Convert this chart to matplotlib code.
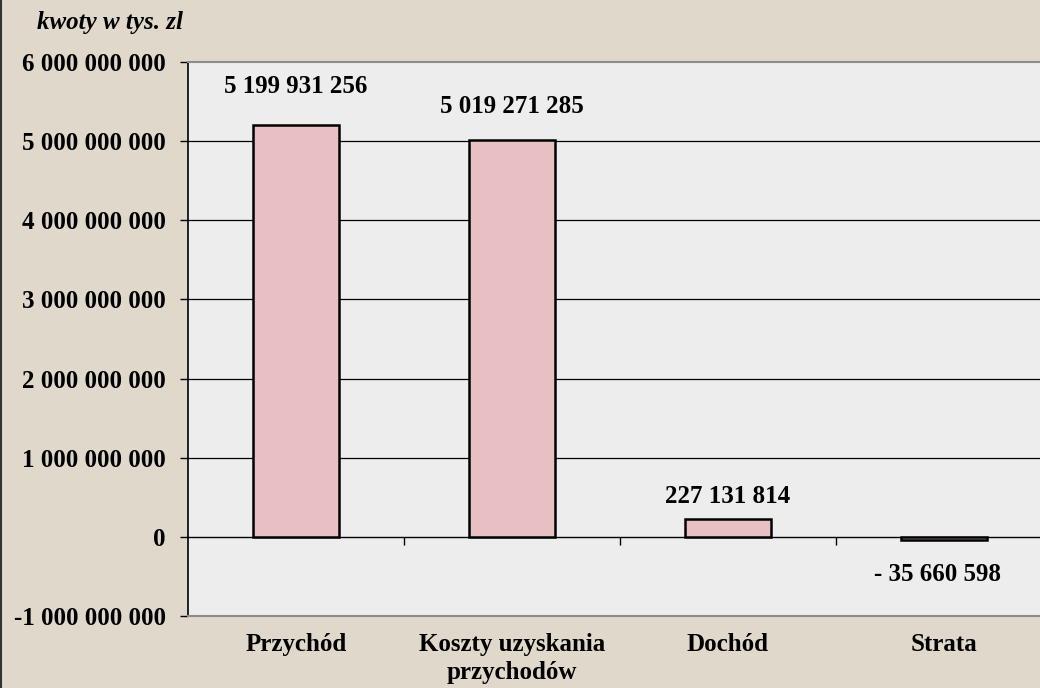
import numpy as np
import matplotlib.pyplot as plt
from matplotlib.ticker import FuncFormatter

# Data (kwoty w tys. zl)
categories = ['Przychód', 'Koszty uzyskania\nprzychodów', 'Dochód', 'Strata']
values = [5199931256, 5019271285, 227131814, -35660598]
value_labels = ['5 199 931 256', '5 019 271 285', '227 131 814', '- 35 660 598']
label_offsets = [(0, 28), (0, 24), (0, 16), (-5, -25)]  # points from bar end

plt.rcParams['font.family'] = ['Liberation Serif', 'DejaVu Serif']
plt.rcParams['font.weight'] = 'bold'

fig = plt.figure(figsize=(10.4, 6.88), dpi=100, facecolor='#e0d8cb')
ax = fig.add_axes([0.1808, 0.1047, 0.8307, 0.8052])
ax.set_facecolor('#ededed')

x = np.arange(len(categories))
bars = ax.bar(x, values, width=0.4, color='#e8bfc3', edgecolor='black', linewidth=1.8, zorder=3)

ax.set_xlim(-0.5, len(categories) - 0.5)
ax.set_ylim(-1e9, 6e9)
ax.set_yticks(np.arange(-1e9, 6.1e9, 1e9))
ax.yaxis.set_major_formatter(FuncFormatter(lambda v, p: f'{int(v):,}'.replace(',', ' ')))
ax.tick_params(axis='y', length=6, width=1, pad=10, labelsize=18, colors='black')
for lab in ax.get_yticklabels():
    lab.set_fontweight('bold')

# gridlines
for yv in np.arange(1e9, 5.1e9, 1e9):
    ax.axhline(yv, color='black', linewidth=0.9, zorder=1)

# category labels at the bottom
ax.set_xticks(x)
ax.set_xticklabels(categories, fontsize=18, fontweight='bold', linespacing=1.3)
ax.tick_params(axis='x', length=0, pad=12)

# zero axis with ticks between categories
sec = ax.secondary_xaxis(1 / 7)
sec.set_xticks(x[:-1] + 0.5)
sec.set_xticklabels([])
sec.tick_params(axis='x', direction='out', length=6, width=1, color='black')
sec.spines['bottom'].set_color('black')
sec.spines['bottom'].set_linewidth(1)

for s in ['top', 'bottom', 'right']:
    ax.spines[s].set_color('#8c8c8c')
    ax.spines[s].set_linewidth(1.5)
ax.spines['left'].set_color('black')
ax.spines['left'].set_linewidth(1.2)

for b, v, lab, off in zip(bars, values, value_labels, label_offsets):
    ax.annotate(lab, (b.get_x() + b.get_width() / 2, v), xytext=off,
                textcoords='offset points', ha='center', va='center',
                fontsize=18, fontweight='bold', zorder=4)

fig.text(0.0356, 0.968, 'kwoty w tys. zl', fontsize=18, fontweight='bold',
         fontstyle='italic', ha='left', va='center')
fig.add_artist(plt.Line2D([0.001, 0.001], [0, 1], transform=fig.transFigure, color='#333333', linewidth=1.5))

fig.savefig('out.png', dpi=100, facecolor=fig.get_facecolor())
